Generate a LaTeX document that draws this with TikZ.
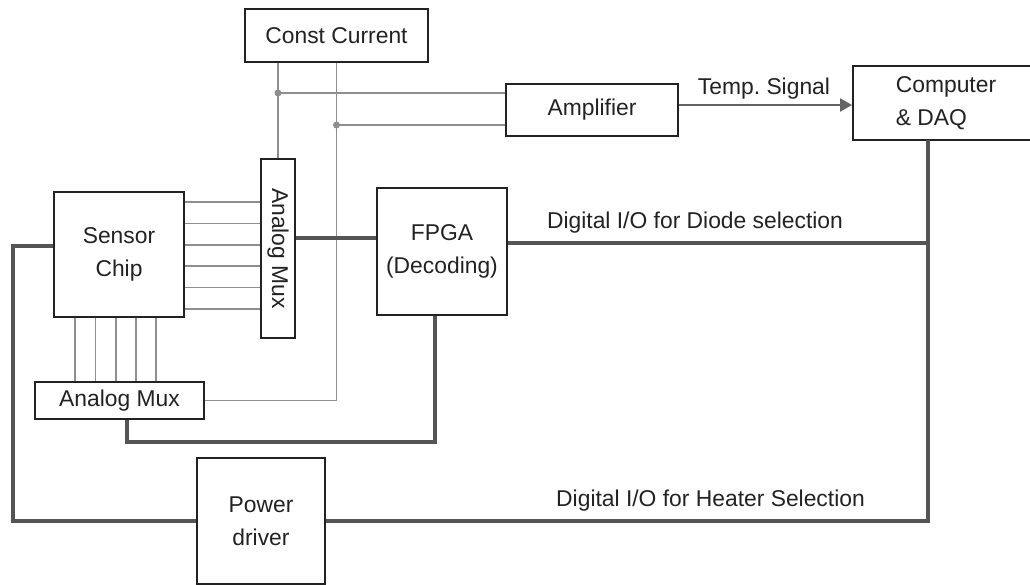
\documentclass[tikz,border=0pt]{standalone}
\usepackage{fontspec}
\setmainfont{Liberation Sans}
\usetikzlibrary{arrows.meta,positioning}
\definecolor{SBInk}{HTML}{222222}
\definecolor{SBBus}{HTML}{555555}
\definecolor{SBWire}{HTML}{8E8E8E}
\definecolor{SBArrow}{HTML}{666666}
\tikzset{
  sbbox/.style={
    draw=SBInk,
    fill=white,
    line width=1pt,
    align=center,
    inner sep=0pt,
    text=SBInk,
    font=\fontsize{13}{18.5}\selectfont
  },
  sbbus/.style={draw=SBBus,line width=2.3pt},
  sbwire/.style={draw=SBWire,line width=0.9pt},
  sbsignal/.style={-{Triangle[length=0.24cm,width=0.26cm]},draw=SBArrow,line width=1.1pt},
  sblabel/.style={font=\fontsize{13}{16}\selectfont,text=SBInk}
}

\begin{document}
\begin{tikzpicture}[
  box/.style={sbbox}
]
  \useasboundingbox (0,0) rectangle (20.6,-11.7);

  \node[box,minimum width=3.66cm,minimum height=1.06cm] (cc) at (6.73,-0.71) {Const Current};
  \node[box,minimum width=3.44cm,minimum height=1.04cm] (amp) at (11.84,-2.2) {Amplifier};
  \node[box,minimum width=3.72cm,minimum height=1.48cm,align=left] (daq) at (18.92,-2.06) {Computer\\\& DAQ};
  \node[box,minimum width=0.68cm,minimum height=3.58cm] (vmux) at (5.56,-4.97) {\rotatebox{-90}{Analog Mux}};
  \node[box,minimum width=2.6cm,minimum height=2.5cm] (chip) at (2.38,-5.09) {Sensor\\Chip};
  \node[box,minimum width=2.6cm,minimum height=2.54cm] (fpga) at (8.84,-5.03) {FPGA\\(Decoding)};
  \node[box,minimum width=3.38cm,minimum height=0.74cm] (hmux) at (2.39,-8.01) {Analog Mux};
  \node[box,minimum width=2.56cm,minimum height=2.52cm] (drv) at (5.22,-10.42) {Power\\driver};

  \node[sblabel] (templbl) at (15.28,-1.78) {Temp.\ Signal};
  \node[sblabel] (diodelbl) at (13.9,-4.46) {Digital I/O for Diode selection};
  \node[sblabel] (heaterlbl) at (14.21,-10.02) {Digital I/O for Heater Selection};

  \coordinate (tapA) at (5.56,-1.86);
  \coordinate (tapB) at (6.73,-2.5);
  \coordinate (daqout) at (18.56,-2.8);

  \draw[sbwire] (vmux.north |- cc.south) -- (vmux.north);
  \draw[sbwire] (cc.south) |- (hmux.east);
  \draw[sbwire] (tapA) -- (tapA -| amp.west);
  \draw[sbwire] (tapB) -- (tapB -| amp.west);
  \fill[SBWire] (tapA) circle (0.07) (tapB) circle (0.07);

  \foreach \yy in {-4.04,-4.47,-4.90,-5.32,-5.75,-6.18}
    \draw[sbwire] (chip.east |- 0,\yy) -- (vmux.west |- 0,\yy);
  \foreach \xx in {1.50,1.91,2.32,2.72,3.12}
    \draw[sbwire] (chip.south -| \xx,0) -- (hmux.north -| \xx,0);

  \draw[sbbus] ([yshift=0.21cm]vmux.east) -- ([yshift=0.21cm]vmux.east -| fpga.west);
  \draw[sbbus] ([yshift=0.17cm]fpga.east) -- ([yshift=0.17cm]fpga.east -| daqout);
  \draw[sbbus] ([yshift=0.17cm]chip.west) -- ++(-0.8,0) |- (drv.west);
  \draw[sbbus] ([xshift=0.15cm]hmux.south) -- ++(0,-0.44) -| ([xshift=-0.14cm]fpga.south);
  \draw[sbbus] (drv.east) -| (daqout);

  \draw[sbsignal] ([yshift=0.1cm]amp.east) -- ([yshift=0.1cm]amp.east -| daq.west);
\end{tikzpicture}
\end{document}
